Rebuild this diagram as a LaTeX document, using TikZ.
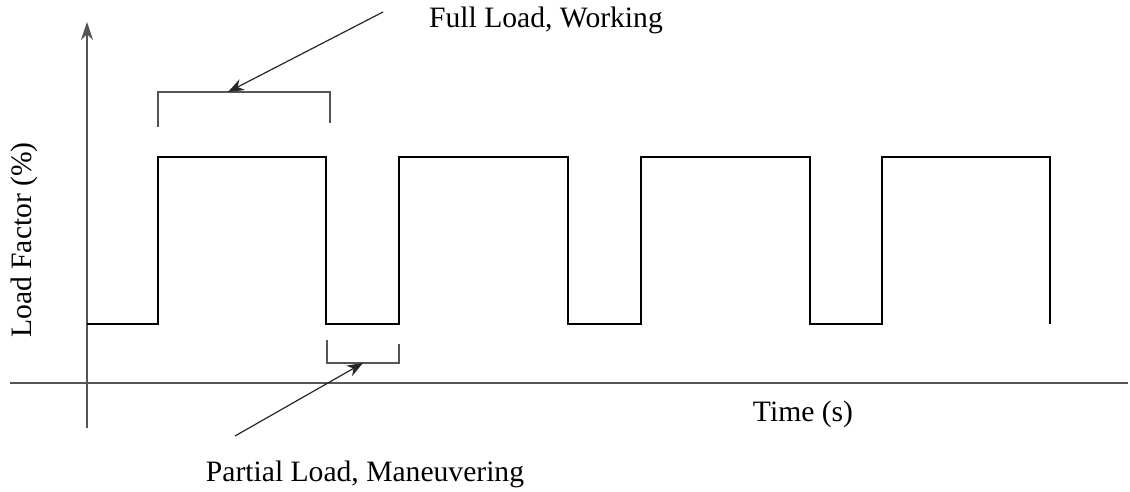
\documentclass[tikz,border=0pt]{standalone}
\usepackage{fontspec}
\setmainfont{Liberation Serif}
\usetikzlibrary{arrows.meta,positioning}
\definecolor{axisgray}{HTML}{555555}

\begin{document}
\begin{tikzpicture}[x=0.5pt, y=-0.5pt,
    axis/.style={draw=axisgray, line width=0.7pt},
    wave/.style={draw=black, line width=0.75pt},
    bracket/.style={draw=axisgray, line width=0.6pt},
    callout/.style={draw=black!85, line width=0.6pt, -{Stealth[length=8pt, width=6pt]}},
    lbl/.style={font=\fontsize{14.8}{17}\selectfont, inner sep=0pt}
]
    \useasboundingbox (0,0) rectangle (1130,492);

    % axes
    \coordinate (yfoot) at (87,428);
    \coordinate (ytip) at (87,22);
    \coordinate (xstart) at (10,383);
    \coordinate (xend) at (1128,383);
    \draw[axis, -{Stealth[length=9pt, width=6pt]}] (yfoot) -- (ytip);
    \draw[axis] (xstart) -- (xend);

    % load profile
    \draw[wave] (87,324) -- (158,324) -- (158,157) -- (326,157) -- (326,324)
        -- (399,324) -- (399,157) -- (568,157) -- (568,324)
        -- (641,324) -- (641,157) -- (810,157) -- (810,324)
        -- (882,324) -- (882,157) -- (1050,157) -- (1050,324);

    % brackets
    \draw[bracket] (158,127) -- (158,92) -- (330,92) -- (330,123);
    \coordinate (fullmark) at (228,92);
    \draw[bracket] (327,340) -- (327,363) -- (399,363) -- (399,344);
    \coordinate (partmark) at (363,363);

    % labels
    \node[lbl] (full) at (546,20) {Full Load, Working};
    \node[lbl] (part) at (365,474) {Partial Load, Maneuvering};
    \node[lbl] (time) at (803,414) {Time (s)};
    \node[lbl, rotate=90] (load) at (24,240) {Load Factor (\%)};

    \coordinate (fulltail) at (383,12);
    \coordinate (parttail) at (235,436);
    \draw[callout] (fulltail) -- (fullmark);
    \draw[callout] (parttail) -- (partmark);
\end{tikzpicture}
\end{document}
